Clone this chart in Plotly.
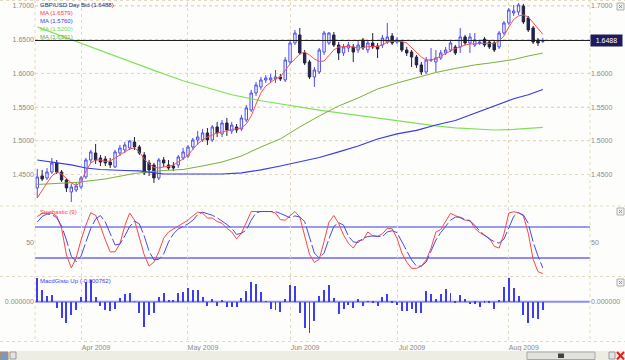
import pandas as pd
import plotly.graph_objects as go

# ---------------- data ----------------
dates = pd.bdate_range("2009-03-19", "2009-08-12").strftime("%Y-%m-%d").tolist()

open_px = [1.4300, 1.4478, 1.4448, 1.4537, 1.4671, 1.4537, 1.4418, 1.4240, 1.4270, 1.4314,
           1.4463, 1.4715, 1.4819, 1.4745, 1.4730, 1.4685, 1.4611, 1.4819, 1.4864, 1.4893,
           1.4982, 1.4908, 1.4789, 1.4671, 1.4641, 1.4448, 1.4715, 1.4641, 1.4626, 1.4641,
           1.4745, 1.4774, 1.4908, 1.5012, 1.5012, 1.5116, 1.5012, 1.5205, 1.5101, 1.5264,
           1.5145, 1.5205, 1.5175, 1.5309, 1.5457, 1.5709, 1.5798, 1.5902, 1.5902, 1.5917,
           1.5947, 1.5902, 1.6169, 1.6451, 1.6570, 1.6303, 1.6169, 1.5947, 1.6021, 1.6317,
           1.6451, 1.6570, 1.6421, 1.6303, 1.6377, 1.6392, 1.6347, 1.6496, 1.6347, 1.6451,
           1.6406, 1.6421, 1.6466, 1.6555, 1.6466, 1.6466, 1.6347, 1.6317, 1.6243, 1.6125,
           1.6021, 1.6199, 1.6169, 1.6228, 1.6303, 1.6347, 1.6392, 1.6392, 1.6540, 1.6451,
           1.6421, 1.6443, 1.6510, 1.6466, 1.6451, 1.6392, 1.6599, 1.6748, 1.6896, 1.6911,
           1.7000, 1.6822, 1.6674, 1.6496, 1.6473]
high_px = [1.4582, 1.4567, 1.4596, 1.4745, 1.4715, 1.4567, 1.4448, 1.4359, 1.4374, 1.4478,
           1.4745, 1.4864, 1.4953, 1.4789, 1.4774, 1.4745, 1.4864, 1.4938, 1.4982, 1.5012,
           1.5056, 1.4938, 1.4834, 1.4715, 1.4671, 1.4745, 1.4760, 1.4715, 1.4685, 1.4789,
           1.4893, 1.4938, 1.5042, 1.5145, 1.5175, 1.5190, 1.5234, 1.5279, 1.5309, 1.5338,
           1.5279, 1.5249, 1.5383, 1.5531, 1.5754, 1.5872, 1.5947, 1.5976, 1.5991, 1.6050,
           1.5991, 1.6243, 1.6496, 1.6644, 1.6674, 1.6347, 1.6199, 1.6095, 1.6377, 1.6629,
           1.6614, 1.6614, 1.6466, 1.6436, 1.6466, 1.6436, 1.6496, 1.6525, 1.6496, 1.6599,
           1.6451, 1.6570, 1.6748, 1.6599, 1.6540, 1.6496, 1.6392, 1.6347, 1.6273, 1.6169,
           1.6243, 1.6377, 1.6347, 1.6347, 1.6392, 1.6481, 1.6421, 1.6674, 1.6570, 1.6599,
           1.6599, 1.6496, 1.6540, 1.6496, 1.6481, 1.6629, 1.6777, 1.6970, 1.7015, 1.7044,
           1.7030, 1.6852, 1.6703, 1.6525, 1.6525]
low_px = [1.4151, 1.4403, 1.4418, 1.4507, 1.4507, 1.4389, 1.4240, 1.4092, 1.4240, 1.4285,
          1.4433, 1.4671, 1.4656, 1.4626, 1.4626, 1.4596, 1.4596, 1.4774, 1.4819, 1.4864,
          1.4864, 1.4789, 1.4492, 1.4478, 1.4374, 1.4418, 1.4611, 1.4567, 1.4552, 1.4596,
          1.4715, 1.4745, 1.4864, 1.4938, 1.4982, 1.4938, 1.4982, 1.5056, 1.5056, 1.5071,
          1.5101, 1.5116, 1.5145, 1.5279, 1.5427, 1.5665, 1.5754, 1.5858, 1.5872, 1.5858,
          1.5887, 1.5872, 1.6139, 1.6421, 1.6273, 1.6125, 1.5917, 1.5798, 1.5991, 1.6273,
          1.6421, 1.6392, 1.6199, 1.6258, 1.6317, 1.6169, 1.6303, 1.6347, 1.6303, 1.6362,
          1.6228, 1.6377, 1.6436, 1.6421, 1.6436, 1.6317, 1.6258, 1.6095, 1.6080, 1.5976,
          1.5991, 1.6169, 1.6021, 1.6199, 1.6273, 1.6317, 1.6273, 1.6303, 1.6421, 1.6303,
          1.6392, 1.6421, 1.6392, 1.6362, 1.6317, 1.6362, 1.6570, 1.6718, 1.6852, 1.6866,
          1.6733, 1.6614, 1.6436, 1.6406, 1.6451]
close_px = [1.4463, 1.4433, 1.4537, 1.4671, 1.4537, 1.4418, 1.4300, 1.4314, 1.4329, 1.4448,
            1.4715, 1.4834, 1.4715, 1.4685, 1.4671, 1.4641, 1.4834, 1.4893, 1.4938, 1.4997,
            1.4908, 1.4819, 1.4522, 1.4567, 1.4448, 1.4715, 1.4671, 1.4596, 1.4596, 1.4760,
            1.4834, 1.4908, 1.5012, 1.5056, 1.5116, 1.5012, 1.5205, 1.5116, 1.5264, 1.5160,
            1.5234, 1.5160, 1.5338, 1.5487, 1.5709, 1.5828, 1.5902, 1.5932, 1.5932, 1.5947,
            1.5917, 1.6199, 1.6451, 1.6599, 1.6303, 1.6154, 1.5947, 1.6050, 1.6347, 1.6599,
            1.6599, 1.6421, 1.6303, 1.6392, 1.6421, 1.6317, 1.6421, 1.6377, 1.6451, 1.6392,
            1.6362, 1.6525, 1.6540, 1.6451, 1.6496, 1.6347, 1.6303, 1.6243, 1.6125, 1.6021,
            1.6199, 1.6199, 1.6228, 1.6303, 1.6347, 1.6451, 1.6303, 1.6540, 1.6451, 1.6540,
            1.6496, 1.6466, 1.6421, 1.6392, 1.6347, 1.6599, 1.6748, 1.6941, 1.6926, 1.7015,
            1.6763, 1.6644, 1.6466, 1.6451, 1.6488]

# moving averages
ma_red = [1.4151, 1.4270, 1.4374, 1.4478, 1.4537, 1.4508, 1.4448, 1.4374, 1.4337, 1.4389,
          1.4552, 1.4671, 1.4715, 1.4715, 1.4693, 1.4700, 1.4745, 1.4789, 1.4834, 1.4878,
          1.4893, 1.4834, 1.4730, 1.4656, 1.4604, 1.4597, 1.4611, 1.4619, 1.4641, 1.4685,
          1.4730, 1.4789, 1.4864, 1.4953, 1.5012, 1.5056, 1.5086, 1.5116, 1.5130, 1.5153,
          1.5167, 1.5175, 1.5190, 1.5249, 1.5368, 1.5546, 1.5709, 1.5813, 1.5872, 1.5917,
          1.5947, 1.6050, 1.6140, 1.6214, 1.6288, 1.6318, 1.6273, 1.6214, 1.6177, 1.6184,
          1.6273, 1.6347, 1.6391, 1.6399, 1.6399, 1.6391, 1.6377, 1.6384, 1.6399, 1.6399,
          1.6399, 1.6421, 1.6466, 1.6473, 1.6473, 1.6473, 1.6451, 1.6377, 1.6303, 1.6243,
          1.6199, 1.6199, 1.6221, 1.6258, 1.6295, 1.6332, 1.6369, 1.6391, 1.6421, 1.6436,
          1.6443, 1.6446, 1.6446, 1.6446, 1.6446, 1.6481, 1.6555, 1.6689, 1.6800, 1.6852,
          1.6867, 1.6837, 1.6748, 1.6659, 1.6579]
ma_blue_idx = [0, 3, 7, 10, 13, 18, 21, 26, 30, 34, 38, 42, 46, 50, 54, 58, 62, 66, 70,
               74, 78, 82, 86, 90, 94, 98, 101, 104]
ma_blue = [1.4715, 1.4685, 1.4641, 1.4596, 1.4574, 1.4559, 1.4552, 1.4507, 1.4507, 1.4507,
           1.4507, 1.4523, 1.4567, 1.4626, 1.4686, 1.4752, 1.4834, 1.4923, 1.5027, 1.5101,
           1.5153, 1.5234, 1.5301, 1.5405, 1.5513, 1.5624, 1.5683, 1.5760]
ma_lgreen_idx = [0, 6, 12, 18, 24, 30, 35, 40, 46, 52, 58, 64, 70, 74, 78, 82, 86, 90, 94,
                 98, 101, 104]
ma_lgreen = [1.6689, 1.6526, 1.6364, 1.6199, 1.6045, 1.5890, 1.5787, 1.5683, 1.5594, 1.5520,
             1.5454, 1.5395, 1.5336, 1.5306, 1.5264, 1.5220, 1.5190, 1.5175, 1.5160, 1.5168,
             1.5182, 1.5200]
ma_olive_idx = [0, 8, 14, 20, 26, 30, 34, 38, 42, 46, 50, 54, 58, 62, 66, 70, 74, 78, 82,
                86, 90, 94, 98, 101, 104]
ma_olive = [1.4352, 1.4381, 1.4433, 1.4515, 1.4559, 1.4574, 1.4626, 1.4685, 1.4774, 1.4908,
            1.5027, 1.5205, 1.5368, 1.5516, 1.5635, 1.5768, 1.5857, 1.5939, 1.6013, 1.6073,
            1.6125, 1.6162, 1.6206, 1.6258, 1.6301]

stoch_k = [92, 97, 97.6, 97.6, 92.7, 73, 30, 9, 25, 54,
           78, 98, 94, 76, 54, 35, 35, 48, 77, 97.6,
           86, 60, 30, 12, 18.5, 35, 57, 67, 72, 77,
           81, 86, 93, 99, 97.6, 89.5, 89.5, 84, 81, 73,
           67, 56, 65, 83, 100, 100, 100, 100, 100, 97.6,
           87, 86, 92.7, 100, 91, 62, 31, 18, 23, 52,
           83, 93.5, 81, 62, 49, 41, 53, 54, 67, 61,
           60, 64, 73, 72, 57, 33, 18.5, 8.4, 8.4, 12,
           22, 41, 67, 71, 84.7, 97, 93.5, 89.5, 86, 86,
           73, 66, 61, 57, 44, 41, 64, 97.6, 99.7, 98,
           93, 65, 23, 3, 0]
stoch_d = [83, 92, 96, 95, 90, 76.6, 54, 28, 19, 28,
           51, 72.6, 88, 93.5, 83, 64, 46, 47.6, 60.5, 75.8,
           84.7, 80, 60.5, 36, 22, 23, 31.5, 51, 64, 71.8,
           75.8, 80, 86, 95, 99, 97, 94, 90, 85, 79,
           73, 63, 65, 70, 86, 98, 100, 100, 100, 100,
           97, 93, 90, 93, 91, 84, 57, 33, 25, 33,
           56, 76, 82, 78, 60.5, 51, 50, 57, 59.7, 60.5,
           60, 59.5, 67, 69, 66, 52, 38, 22, 12, 12,
           18.5, 36, 54, 66, 76.6, 86, 91, 91, 87, 84.7,
           78, 68.5, 62, 55.6, 51.6, 49, 55.6, 73, 92, 98,
           94.4, 81, 51, 28, 9]
stoch_levels = [75, 25]

macd_hist = [0.00215, 0.00107, 0.00055, 0.00060, -0.00060, -0.00153, -0.00200, -0.00123, -0.00077, 0.00046,
             0.00184, 0.00200, 0.00046, -0.00040, -0.00077, -0.00083, -0.00070, 0.00037, 0.00067, 0.00077,
             0.00005, -0.00107, -0.00236, -0.00123, -0.00100, 0.00040, 0.00077, 0.00010, 0.00010, 0.00083,
             0.00092, 0.00123, 0.00107, 0.00107, 0.00046, -0.00040, 0.00025, -0.00040, 0.00010, -0.00052,
             -0.00052, -0.00052, 0.00030, 0.00100, 0.00184, 0.00163, 0.00092, 0.00005, -0.00067, -0.00077,
             -0.00092, 0.00025, 0.00153, 0.00144, -0.00107, -0.00245, -0.00290, -0.00175, 0.00052, 0.00107,
             0.00153, 0.00037, -0.00117, -0.00070, -0.00030, -0.00060, 0.00020, -0.00040, 0.00005, -0.00010,
             -0.00040, 0.00040, 0.00067, -0.00015, -0.00034, -0.00086, -0.00086, -0.00070, -0.00107, -0.00107,
             0.00100, 0.00067, 0.00025, 0.00067, 0.00113, 0.00083, -0.00012, 0.00058, 0.00025, -0.00025,
             -0.00018, -0.00046, -0.00015, -0.00015, -0.00070, 0.00015, 0.00138, 0.00220, 0.00129, 0.00052,
             -0.00123, -0.00193, -0.00153, -0.00163, -0.000762]

month_ticks = ["2009-04-01", "2009-05-01", "2009-06-01", "2009-07-01", "2009-08-03"]
month_labels = ["Apr 2009", "May 2009", "Jun 2009", "Jul 2009", "Aug 2009"]
price_ticks = [1.45, 1.50, 1.55, 1.60, 1.65, 1.70]
# on the right side the last-price box hides the tick it sits on
price_ticks_right = [t for t in price_ticks if abs(t - close_px[-1]) > 0.01]

# ---------------- style ----------------
FONT = "Liberation Sans, Arial, sans-serif"
TICKC = "#8a8a8a"
GRID = "#e2dac2"
UP = "#4d4df2"
DOWN_FILL = "#22225e"
DOWN_LINE = "#23233a"
BG = "#fdfdfb"

fig = go.Figure()

fig.add_trace(go.Candlestick(
    x=dates, open=open_px, high=high_px, low=low_px, close=close_px,
    increasing=dict(line=dict(color=UP, width=1), fillcolor="#ffffff"),
    decreasing=dict(line=dict(color=DOWN_LINE, width=1), fillcolor=DOWN_FILL),
    whiskerwidth=0, xaxis="x", yaxis="y", showlegend=False, hoverinfo="skip"))

def sub(idx, vals):
    return [dates[i] for i in idx], vals

bx, by = sub(ma_blue_idx, ma_blue)
gx, gy = sub(ma_lgreen_idx, ma_lgreen)
ox, oy = sub(ma_olive_idx, ma_olive)
fig.add_trace(go.Scatter(x=gx, y=gy, mode="lines", line=dict(color="#7fe05a", width=1.2),
                         xaxis="x", yaxis="y", hoverinfo="skip", showlegend=False))
fig.add_trace(go.Scatter(x=ox, y=oy, mode="lines", line=dict(color="#7caf3c", width=1),
                         xaxis="x", yaxis="y", hoverinfo="skip", showlegend=False))
fig.add_trace(go.Scatter(x=bx, y=by, mode="lines", line=dict(color="#3a3ae6", width=1.2),
                         xaxis="x", yaxis="y", hoverinfo="skip", showlegend=False))
fig.add_trace(go.Scatter(x=dates, y=ma_red, mode="lines", line=dict(color="#ff4d4d", width=1),
                         xaxis="x", yaxis="y", hoverinfo="skip", showlegend=False))

# stochastic
fig.add_trace(go.Scatter(x=dates, y=stoch_k, mode="lines", line=dict(color="#ff4545", width=1),
                         xaxis="x2", yaxis="y2", hoverinfo="skip", showlegend=False))
fig.add_trace(go.Scatter(x=dates, y=stoch_d, mode="lines",
                         line=dict(color="#4848f0", width=1, dash="16px,3px"),
                         xaxis="x2", yaxis="y2", hoverinfo="skip", showlegend=False))
# macd histogram
fig.add_trace(go.Bar(x=dates, y=macd_hist, width=0.2, marker=dict(color="#3c3cf0", line=dict(width=0)),
                     xaxis="x3", yaxis="y3", hoverinfo="skip", showlegend=False))

# invisible traces for the mirrored left-side tick axes
fig.add_trace(go.Scatter(x=[dates[0]], y=[close_px[0]], mode="markers", marker=dict(opacity=0),
                         xaxis="x", yaxis="y4", hoverinfo="skip", showlegend=False))
fig.add_trace(go.Scatter(x=[dates[0]], y=[stoch_k[0]], mode="markers", marker=dict(opacity=0),
                         xaxis="x2", yaxis="y5", hoverinfo="skip", showlegend=False))
fig.add_trace(go.Scatter(x=[dates[0]], y=[macd_hist[0]], mode="markers", marker=dict(opacity=0),
                         xaxis="x3", yaxis="y6", hoverinfo="skip", showlegend=False))

W, H = 625, 360
ML, MR, MT, MB = 35, 35, 2, 19
D_PRICE = [0.4012, 1.0]
D_STOCH = [0.1917, 0.3953]
D_MACD = [0.0, 0.1888]
R_PRICE = [1.4047, 1.7059]
R_STOCH = [-4.0, 107.3]
R_MACD = [-0.00362, 0.00227]

tickfont = dict(family=FONT, size=7, color=TICKC)
xcommon = dict(type="category", categoryorder="array", categoryarray=dates,
               range=[-0.47, 113.7], tickvals=month_ticks, ticktext=month_labels,
               showgrid=True, gridcolor=GRID, griddash="dot", gridwidth=1,
               showline=False, zeroline=False, ticks="", fixedrange=True,
               rangeslider=dict(visible=False))
ycommon = dict(showline=False, zeroline=False, ticks="", fixedrange=True, tickfont=tickfont)

fig.update_layout(
    width=W, height=H, margin=dict(l=ML, r=MR, t=MT, b=MB),
    paper_bgcolor=BG, plot_bgcolor=BG, showlegend=False, bargap=0,
    font=dict(family=FONT, size=7, color=TICKC),
    xaxis=dict(**xcommon, anchor="y", domain=[0, 1], showticklabels=False, matches="x3"),
    xaxis2=dict(**xcommon, anchor="y2", domain=[0, 1], showticklabels=False, matches="x3"),
    xaxis3=dict(**xcommon, anchor="y3", domain=[0, 1], showticklabels=True, tickfont=tickfont,
                ticklabelshift=15, ticklabelstandoff=1),
    yaxis=dict(**ycommon, domain=D_PRICE, range=R_PRICE, side="right", anchor="x",
               tickvals=price_ticks_right, tickformat=".4f", showgrid=False),
    yaxis4=dict(**ycommon, domain=D_PRICE, range=R_PRICE, side="left", overlaying="y", anchor="x",
                tickvals=price_ticks, tickformat=".4f", showgrid=True, gridcolor=GRID, griddash="dot"),
    yaxis2=dict(**ycommon, domain=D_STOCH, range=R_STOCH, side="right", anchor="x2",
                tickvals=[50], showgrid=False),
    yaxis5=dict(**ycommon, domain=D_STOCH, range=R_STOCH, side="left", overlaying="y2", anchor="x2",
                tickvals=[50], showgrid=False),
    yaxis3=dict(**ycommon, domain=D_MACD, range=R_MACD, side="right", anchor="x3",
                tickvals=[0], tickformat=".6f", showgrid=False),
    yaxis6=dict(**ycommon, domain=D_MACD, range=R_MACD, side="left", overlaying="y3", anchor="x3",
                tickvals=[0], tickformat=".6f", showgrid=False),
)

shapes = []
# price gridlines (drawn under the data)
for t in price_ticks:
    shapes.append(dict(type="line", xref="x domain", x0=0, x1=1, yref="y", y0=t, y1=t,
                       line=dict(color=GRID, width=1, dash="dot"), layer="below"))
# last price line
shapes.append(dict(type="line", xref="x domain", x0=0, x1=1, yref="y", y0=close_px[-1], y1=close_px[-1],
                   line=dict(color="#1a1a1a", width=1), layer="above"))
# stochastic levels
shapes.append(dict(type="line", xref="x2 domain", x0=0, x1=1, yref="y2", y0=stoch_levels[0], y1=stoch_levels[0],
                   line=dict(color="#3a3ae0", width=1.2), layer="below"))
shapes.append(dict(type="line", xref="x2 domain", x0=0, x1=1, yref="y2", y0=stoch_levels[1], y1=stoch_levels[1],
                   line=dict(color="#8c8cf5", width=2), layer="below"))
# macd zero line
shapes.append(dict(type="line", xref="x3 domain", x0=0, x1=1, yref="y3", y0=0, y1=0,
                   line=dict(color="#8c8cf5", width=2), layer="below"))

def px_x(v):
    return (v - ML) / (W - ML - MR)

def px_y(v):
    return (H - MB - v) / (H - MB - MT)

# panel separators / frame (dotted)
for yy in [0.5, 206, 276.5, 341.5]:
    shapes.append(dict(type="line", xref="paper", yref="paper", x0=px_x(0), x1=px_x(W),
                       y0=px_y(yy), y1=px_y(yy), line=dict(color=GRID, width=1, dash="dot")))
for xx in [35, 590]:
    shapes.append(dict(type="line", xref="paper", yref="paper", x0=px_x(xx), x1=px_x(xx),
                       y0=px_y(0), y1=px_y(341.5), line=dict(color=GRID, width=1, dash="dot")))

# scrollbar strip
shapes.append(dict(type="rect", xref="paper", yref="paper", x0=px_x(0), x1=px_x(W), y0=px_y(351), y1=px_y(360),
                   fillcolor="#eeede4", line=dict(width=0)))
shapes.append(dict(type="rect", xref="paper", yref="paper", x0=px_x(0), x1=px_x(8), y0=px_y(352), y1=px_y(360),
                   fillcolor="#6f9ad6", line=dict(color="#d08a30", width=1)))
shapes.append(dict(type="rect", xref="paper", yref="paper", x0=px_x(10), x1=px_x(16), y0=px_y(352), y1=px_y(359),
                   fillcolor="#e4e4e4", line=dict(color="#9a9a9a", width=1)))
shapes.append(dict(type="rect", xref="paper", yref="paper", x0=px_x(527), x1=px_x(595), y0=px_y(352), y1=px_y(359.5),
                   fillcolor="#e2e2dc", line=dict(color="#a8a8a8", width=1)))
shapes.append(dict(type="rect", xref="paper", yref="paper", x0=px_x(558), x1=px_x(564), y0=px_y(353.5), y1=px_y(358),
                   fillcolor="#404040", line=dict(width=0)))
shapes.append(dict(type="rect", xref="paper", yref="paper", x0=px_x(609), x1=px_x(615), y0=px_y(352), y1=px_y(359),
                   fillcolor="#e4e4e4", line=dict(color="#9a9a9a", width=1)))
shapes.append(dict(type="line", xref="paper", yref="paper", x0=px_x(617), x1=px_x(624), y0=px_y(352), y1=px_y(359.5),
                   line=dict(color="#e02020", width=2)))
shapes.append(dict(type="line", xref="paper", yref="paper", x0=px_x(617), x1=px_x(624), y0=px_y(359.5), y1=px_y(352),
                   line=dict(color="#e02020", width=2)))
# panel close boxes
for ytop in [3, 208, 279]:
    shapes.append(dict(type="rect", xref="paper", yref="paper", x0=px_x(617), x1=px_x(624),
                       y0=px_y(ytop), y1=px_y(ytop + 7), fillcolor="#f2f2f2", line=dict(color="#b0b0b0", width=1)))
    shapes.append(dict(type="line", xref="paper", yref="paper", x0=px_x(619), x1=px_x(622),
                       y0=px_y(ytop + 2), y1=px_y(ytop + 5), line=dict(color="#909090", width=1)))
    shapes.append(dict(type="line", xref="paper", yref="paper", x0=px_x(619), x1=px_x(622),
                       y0=px_y(ytop + 5), y1=px_y(ytop + 2), line=dict(color="#909090", width=1)))

annotations = []
legend = [
    (f"GBP/USD Day Bid ({close_px[-1]:.4f})", "#1e1e6e", 5),
    (f"MA ({ma_red[-1]:.4f})", "#ff3c3c", 13),
    (f"MA ({ma_blue[-1]:.4f})", "#3c3cf0", 21),
    (f"MA ({ma_lgreen[-1]:.4f})", "#70d848", 29),
    (f"MA ({ma_olive[-1]:.4f})", "#70a838", 37),
    ("Stochastic (9)", "#ff3c3c", 212),
    (f"MacdGisto Up ({macd_hist[-1]:.6f})", "#3c3cf0", 281),
]
for txt, col, yy in legend:
    annotations.append(dict(text=txt, xref="paper", yref="paper", x=px_x(38), y=px_y(yy),
                            xanchor="left", yanchor="middle", showarrow=False,
                            font=dict(family=FONT, size=6, color=col)))
# last price box
annotations.append(dict(text=f"{close_px[-1]:.4f}", xref="paper", yref="y", x=1, y=close_px[-1],
                        xanchor="left", yanchor="middle", showarrow=False, bgcolor="#1b1b5e",
                        width=29, height=9, borderpad=1,
                        font=dict(family=FONT, size=7, color="#ffffff")))

fig.update_layout(shapes=shapes, annotations=annotations)
fig.write_html("out.html")
